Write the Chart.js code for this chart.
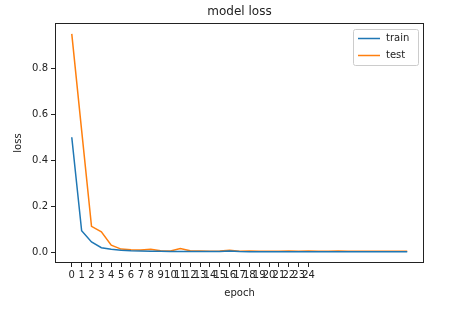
<!DOCTYPE html>
<html>
<head>
  <meta charset="UTF-8" />
  <title>model loss</title>
  <script src="https://cdn.jsdelivr.net/npm/chart.js"></script>
  <style>
    body { margin: 0; background: #fff; }
    #wrap { width: 460px; height: 323px; }
  </style>
</head>
<body>
  <div id="wrap"><canvas id="lossChart" width="460" height="323"></canvas></div>
  <script>
    // data
    const epochs = [0, 1, 2, 3, 4, 5, 6, 7, 8, 9, 10, 11, 12, 13, 14, 15, 16, 17, 18, 19, 20, 21, 22, 23, 24, 25, 26, 27, 28, 29, 30, 31, 32, 33, 34];
    const trainLoss = [0.50, 0.093, 0.044, 0.019, 0.012, 0.008, 0.006, 0.005, 0.004, 0.004, 0.003, 0.003, 0.003, 0.003, 0.003, 0.003, 0.005, 0.003, 0.002, 0.002, 0.002, 0.002, 0.002, 0.002, 0.002, 0.002, 0.002, 0.002, 0.002, 0.002, 0.002, 0.002, 0.002, 0.002, 0.002];
    const testLoss = [0.95, 0.53, 0.112, 0.088, 0.030, 0.013, 0.010, 0.009, 0.012, 0.006, 0.005, 0.016, 0.006, 0.005, 0.004, 0.005, 0.008, 0.004, 0.005, 0.004, 0.004, 0.004, 0.005, 0.004, 0.005, 0.004, 0.004, 0.005, 0.004, 0.004, 0.004, 0.004, 0.004, 0.004, 0.004];
    const xTicks = [0, 1, 2, 3, 4, 5, 6, 7, 8, 9, 10, 11, 12, 13, 14, 15, 16, 17, 18, 19, 20, 21, 22, 23, 24];
    const yTicks = [0.0, 0.2, 0.4, 0.6, 0.8];

    const FONT = 'DejaVu Sans';
    const seriesColors = ['#1f77b4', '#ff7f0e'];

    // spines, title, axis labels, legend (matplotlib look)
    const mplDecor = {
      id: 'mplDecor',
      afterDraw(chart) {
        const { ctx, chartArea: a } = chart;
        ctx.save();
        ctx.strokeStyle = '#222';
        ctx.lineWidth = 1;
        ctx.strokeRect(Math.round(a.left) + 0.5, Math.round(a.top) + 0.5,
          Math.round(a.right - a.left) - 1, Math.round(a.bottom - a.top) - 1);

        ctx.fillStyle = '#222';
        ctx.textAlign = 'center';
        ctx.textBaseline = 'middle';
        const cx = (a.left + a.right) / 2;
        ctx.font = '12px "' + FONT + '"';
        ctx.fillText('model loss', cx, 12);
        ctx.font = '10px "' + FONT + '"';
        ctx.fillText('epoch', cx, 293);
        ctx.save();
        ctx.translate(18, (a.top + a.bottom) / 2);
        ctx.rotate(-Math.PI / 2);
        ctx.fillText('loss', 0, 0);
        ctx.restore();

        // legend box
        const bx = 353, by = 29, bw = 65, bh = 36;
        ctx.fillStyle = 'rgba(255,255,255,0.8)';
        ctx.strokeStyle = '#ccc';
        ctx.beginPath();
        ctx.roundRect(bx + 0.5, by + 0.5, bw, bh, 2);
        ctx.fill();
        ctx.stroke();
        ctx.textAlign = 'left';
        chart.data.datasets.forEach((ds, i) => {
          const ly = by + 9.5 + i * 17;
          ctx.strokeStyle = ds.borderColor;
          ctx.lineWidth = 1.5;
          ctx.beginPath();
          ctx.moveTo(bx + 5, ly);
          ctx.lineTo(bx + 27, ly);
          ctx.stroke();
          ctx.fillStyle = '#222';
          ctx.fillText(ds.label, bx + 33, ly);
        });
        ctx.restore();
      }
    };

    const chart = new Chart(document.getElementById('lossChart'), {
      type: 'line',
      data: {
        datasets: [
          { label: 'train', data: epochs.map((e, i) => ({ x: e, y: trainLoss[i] })), borderColor: seriesColors[0] },
          { label: 'test', data: epochs.map((e, i) => ({ x: e, y: testLoss[i] })), borderColor: seriesColors[1] }
        ]
      },
      options: {
        responsive: false,
        animation: false,
        events: [],
        elements: {
          line: { borderWidth: 1.5, tension: 0, fill: false },
          point: { radius: 0 }
        },
        layout: { padding: { top: 23, right: 36, left: 0, bottom: 0 } },
        plugins: {
          legend: { display: false },
          title: { display: false },
          tooltip: { enabled: false }
        },
        scales: {
          x: {
            type: 'linear',
            min: -1.7,
            max: 35.7,
            afterBuildTicks: s => { s.ticks = xTicks.map(v => ({ value: v })); },
            afterFit: s => { s.height = 60; },
            grid: { drawOnChartArea: false, drawTicks: true, tickLength: 4, color: '#222' },
            border: { display: false },
            ticks: { autoSkip: false, maxRotation: 0, padding: 2, color: '#222', font: { family: FONT, size: 10 } }
          },
          y: {
            min: -0.0475,
            max: 0.9975,
            afterBuildTicks: s => { s.ticks = yTicks.map(v => ({ value: v })); },
            afterFit: s => { s.width = 55; },
            grid: { drawOnChartArea: false, drawTicks: true, tickLength: 4, color: '#222' },
            border: { display: false },
            ticks: { padding: 3, color: '#222', font: { family: FONT, size: 10 }, callback: v => v.toFixed(1) }
          }
        }
      },
      plugins: [mplDecor]
    });
  </script>
</body>
</html>
